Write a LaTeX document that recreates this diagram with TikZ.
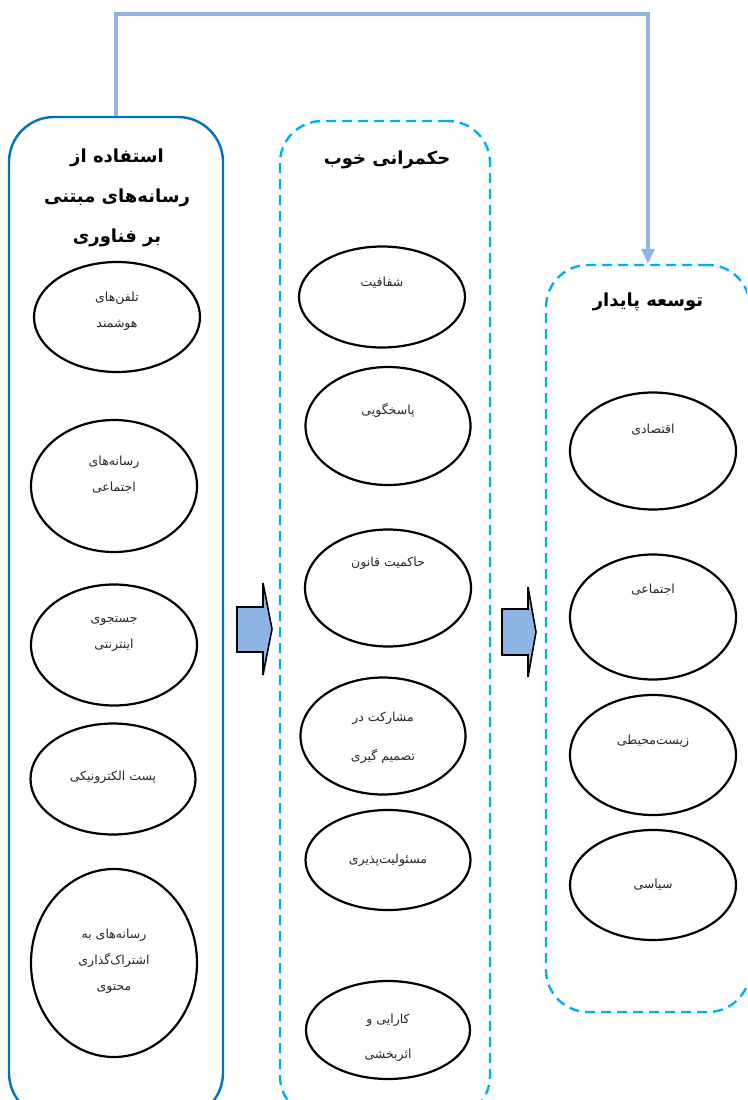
\documentclass[tikz,border=0pt]{standalone}
\usepackage{fontspec}
\newfontfamily\arabicfont[Script=Arabic]{DejaVu Sans}
\TeXXeTstate=1
\usetikzlibrary{shapes.geometric,arrows.meta}
\newcommand{\fa}[1]{{\arabicfont\beginR #1\endR}}
\definecolor{boxblue}{RGB}{0,112,192}
\definecolor{dashblue}{RGB}{0,176,240}
\definecolor{linkblue}{RGB}{141,180,226}
\tikzset{
  solidbox/.style={draw=boxblue, line width=2.4pt, rounded corners=45pt, inner sep=0pt},
  dashbox/.style={draw=dashblue, line width=2.4pt, dash pattern=on 10pt off 6pt, rounded corners=42pt, inner sep=0pt},
  oval/.style={ellipse, draw=black, line width=2.2pt, inner sep=0pt},
  ovaltext/.style={font=\fontsize{12.5}{26}\selectfont, align=center, text=black!85},
  title/.style={font=\fontsize{18}{40}\selectfont\bfseries, align=center},
  link/.style={draw=linkblue, line width=3.4pt, -{Triangle[width=13pt,length=15pt]}},
  blockarrow/.style={draw=black, line width=1.6pt, fill=linkblue, line join=miter}
}
\begin{document}
\begin{tikzpicture}[x=1pt,y=-1pt]
\useasboundingbox (0,0) rectangle (747,1100);
\clip (0,0) rectangle (747,1100);
% containers
\node[solidbox, minimum width=214pt, minimum height=1001pt] (L) at (116,617.5) {};
\node[dashbox, minimum width=210pt, minimum height=997pt] (M) at (385,619.5) {};
\node[dashbox, minimum width=204pt, minimum height=747pt] (R) at (648,638.5) {};
% titles
\node[title] (Lt) at (117,198) {\fa{استفاده از}\\\fa{رسانه‌های مبتنی}\\\fa{بر فناوری}};
\node[title] (Mt) at (387,160) {\fa{حکمرانی خوب}};
\node[title] (Rt) at (648,302) {\fa{توسعه پایدار}};
% link
\draw[link] (L.north) -- ++(0,-102) -| (R.north);
% left ellipses
\node[oval, minimum width=166pt, minimum height=110pt] (l1) at (117,317) {};
\node[ovaltext] (l1t) at (117,311) {\fa{تلفن‌های}\\\fa{هوشمند}};
\node[oval, minimum width=166pt, minimum height=132pt] (l2) at (114,486) {};
\node[ovaltext] (l2t) at (114,475) {\fa{رسانه‌های}\\\fa{اجتماعی}};
\node[oval, minimum width=166pt, minimum height=121pt] (l3) at (114,645) {};
\node[ovaltext] (l3t) at (114,634) {\fa{جستجوی}\\\fa{اینترنتی}};
\node[oval, minimum width=165pt, minimum height=111pt] (l4) at (113,779) {};
\node[ovaltext] (l4t) at (113,777) {\fa{پست الکترونیکی}};
\node[oval, minimum width=166pt, minimum height=188pt] (l5) at (114,963) {};
\node[ovaltext] (l5t) at (114,961) {\fa{رسانه‌های به}\\\fa{اشتراک‌گذاری}\\\fa{محتوی}};
% middle ellipses
\node[oval, minimum width=166pt, minimum height=101pt] (m1) at (382,297) {};
\node[ovaltext] (m1t) at (382,283) {\fa{شفافیت}};
\node[oval, minimum width=165pt, minimum height=118pt] (m2) at (388,426) {};
\node[ovaltext] (m2t) at (388,410) {\fa{پاسخگویی}};
\node[oval, minimum width=166pt, minimum height=117pt] (m3) at (388,588) {};
\node[ovaltext] (m3t) at (388,563) {\fa{حاکمیت قانون}};
\node[oval, minimum width=165pt, minimum height=117pt] (m4) at (383,736) {};
\node[ovaltext, font=\fontsize{12.5}{39}\selectfont] (m4t) at (383,738) {\fa{مشارکت در}\\\fa{تصمیم گیری}};
\node[oval, minimum width=165pt, minimum height=100pt] (m5) at (388,860) {};
\node[ovaltext] (m5t) at (388,860) {\fa{مسئولیت‌پذیری}};
\node[oval, minimum width=164pt, minimum height=98pt] (m6) at (388,1030) {};
\node[ovaltext, font=\fontsize{12.5}{35}\selectfont] (m6t) at (388,1038) {\fa{کارایی و}\\\fa{اثربخشی}};
% right ellipses
\node[oval, minimum width=166pt, minimum height=117pt] (r1) at (653,451) {};
\node[ovaltext] (r1t) at (653,430) {\fa{اقتصادی}};
\node[oval, minimum width=166pt, minimum height=125pt] (r2) at (653,617) {};
\node[ovaltext] (r2t) at (653,590) {\fa{اجتماعی}};
\node[oval, minimum width=166pt, minimum height=120pt] (r3) at (653,755) {};
\node[ovaltext] (r3t) at (653,741) {\fa{زیست‌محیطی}};
\node[oval, minimum width=166pt, minimum height=110pt] (r4) at (653,885) {};
\node[ovaltext] (r4t) at (653,885) {\fa{سیاسی}};
% block arrows
\draw[blockarrow] (237,607) -- (263,607) -- (263,583) -- (272,629) -- (263,675) -- (263,652) -- (237,652) -- cycle;
\draw[blockarrow] (502,609) -- (528,609) -- (528,587) -- (536,632) -- (528,677) -- (528,655) -- (502,655) -- cycle;
\end{tikzpicture}
\end{document}
